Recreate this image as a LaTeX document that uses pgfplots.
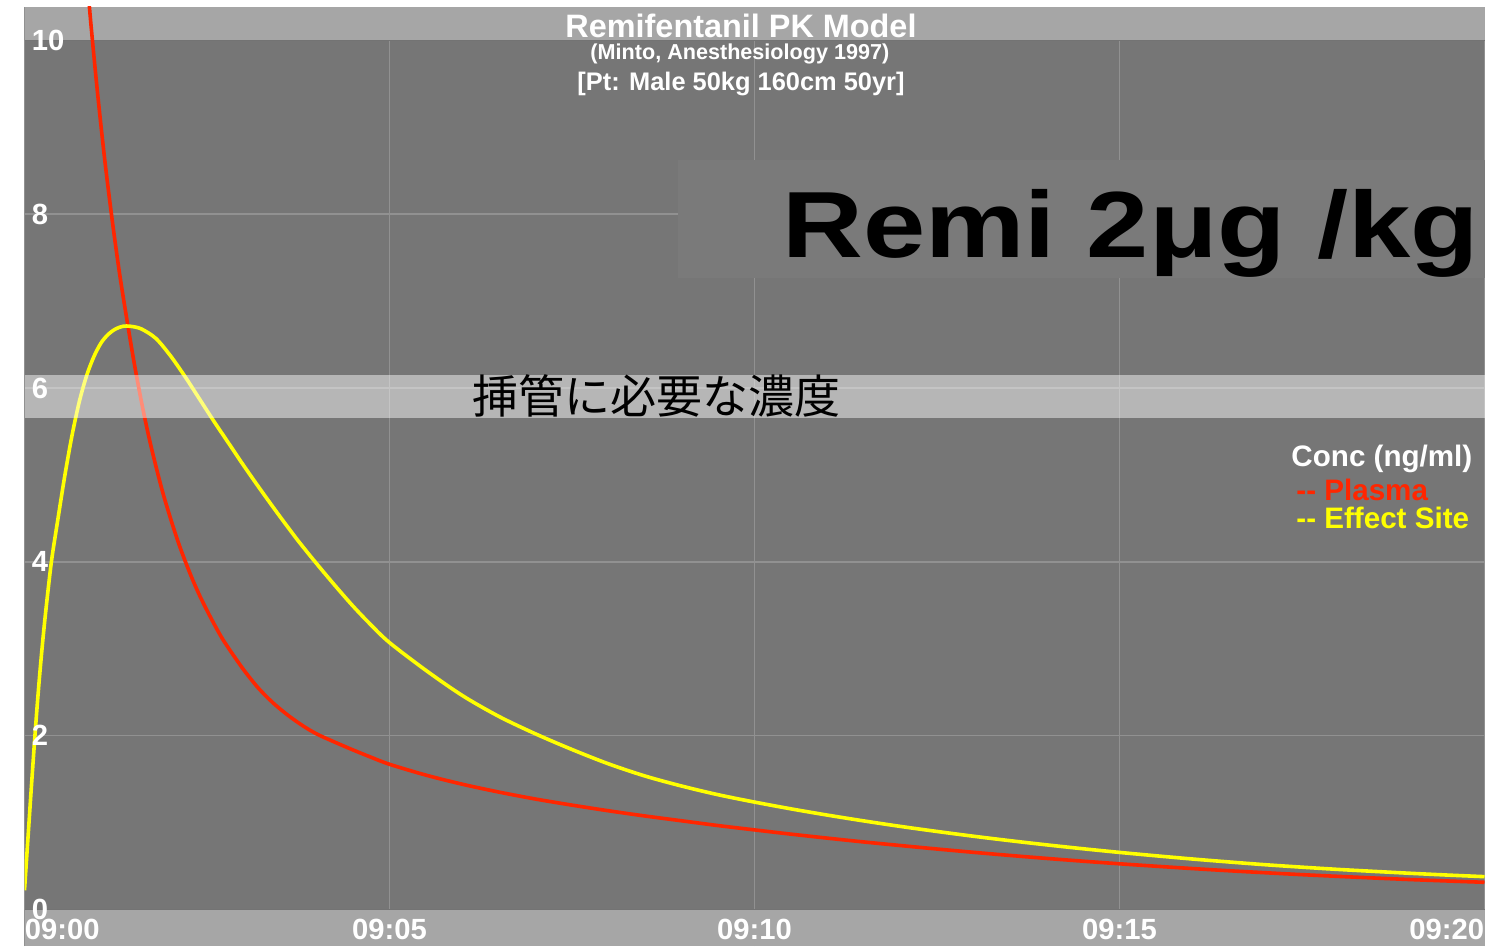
\documentclass[border=0pt]{standalone}
\usepackage{fontspec}
\setmainfont{Liberation Sans}
\newfontfamily\cjk{Noto Sans CJK JP}
\usepackage{graphicx}
\usepackage{pgfplots}
\pgfplotsset{compat=1.18}
\definecolor{bgmain}{RGB}{118,118,118}
\definecolor{bandc}{RGB}{166,166,166}
\definecolor{gridc}{RGB}{145,145,145}
\definecolor{remibox}{RGB}{122,122,122}
\definecolor{plasma}{RGB}{255,38,0}
\definecolor{effect}{RGB}{255,255,0}
\pgfplotsset{
  frame/.style={
    at={(0,0)}, anchor=south west,
    width=730pt, height=469.5pt, scale only axis,
    xmin=0, xmax=20, ymin=-0.421, ymax=10.384,
    axis line style={draw=none},
    xtick={0,5,10,15,20}, ytick={0,2,4,6,8,10},
    major tick length=0pt,
  },
}

\begin{document}
\begin{tikzpicture}
\path[use as bounding box] (-12.25pt,-1pt) rectangle (742.25pt,473pt);
\begin{axis}[
  frame,
  axis background/.style={fill=bgmain},
  xticklabels={}, yticklabels={},
  grid=major, major grid style={gridc, line width=0.75pt},
  clip mode=individual,
]
% bands top and bottom
\fill[bandc] (axis cs:0,10) rectangle (axis cs:20,10.384);
\fill[bandc] (axis cs:0,-0.421) rectangle (axis cs:20,0);
\draw[black!55, line width=0.75pt] (axis cs:0,10) -- (axis cs:20,10);
\draw[black!55, line width=0.75pt] (axis cs:0,0) -- (axis cs:20,0);
\fill[remibox] (axis cs:8.952,7.266) rectangle (axis cs:20,8.624);

% plasma
\addplot[plasma, line width=1.8pt, smooth] table {
0.80 11.30
0.90 10.28
1.00 9.40
1.10 8.62
1.20 7.94
1.30 7.33
1.40 6.80
1.50 6.30
1.60 5.85
1.70 5.45
1.80 5.10
1.90 4.78
2.00 4.50
2.10 4.24
2.20 4.01
2.30 3.80
2.40 3.61
2.50 3.44
2.60 3.28
2.70 3.13
2.80 3.00
3.00 2.76
3.20 2.55
3.40 2.38
3.60 2.24
3.80 2.12
4.00 2.02
4.25 1.925
4.50 1.835
4.75 1.75
5.00 1.67
5.50 1.545
6.00 1.44
6.50 1.35
7.00 1.27
7.50 1.20
8.00 1.135
8.50 1.075
9.00 1.02
9.50 0.965
10.00 0.915
10.50 0.866
11.00 0.820
11.50 0.776
12.00 0.735
12.50 0.695
13.00 0.657
13.50 0.621
14.00 0.587
14.50 0.555
15.00 0.525
15.50 0.497
16.00 0.470
16.50 0.445
17.00 0.422
17.50 0.400
18.00 0.380
18.50 0.361
19.00 0.343
19.50 0.327
20.00 0.312
};
% effect site
\addplot[effect, line width=1.8pt, smooth] table {
0.00 0.22
0.03 0.60
0.06 0.98
0.10 1.48
0.15 2.08
0.20 2.62
0.25 3.09
0.30 3.50
0.37 4.01
0.45 4.45
0.55 4.98
0.65 5.45
0.75 5.84
0.85 6.14
0.95 6.36
1.05 6.52
1.15 6.62
1.25 6.68
1.35 6.71
1.45 6.71
1.60 6.68
1.80 6.57
2.00 6.37
2.20 6.13
2.40 5.87
2.60 5.61
2.80 5.36
3.00 5.11
3.25 4.81
3.50 4.52
3.75 4.24
4.00 3.98
4.25 3.73
4.50 3.49
4.75 3.27
5.00 3.07
5.50 2.75
6.00 2.46
6.50 2.22
7.00 2.02
7.50 1.84
8.00 1.675
8.50 1.535
9.00 1.42
9.50 1.32
10.00 1.235
10.50 1.157
11.00 1.085
11.50 1.018
12.00 0.955
12.50 0.897
13.00 0.842
13.50 0.791
14.00 0.743
14.50 0.698
15.00 0.656
15.50 0.617
16.00 0.580
16.50 0.546
17.00 0.514
17.50 0.486
18.00 0.460
18.50 0.437
19.00 0.415
19.50 0.395
20.00 0.377
};

% intubation band
\fill[white, opacity=0.47] (axis cs:0,5.655) rectangle (axis cs:20,6.15);
\node[font=\cjk\fontsize{23}{23}\selectfont, inner sep=0pt, text=black] at (axis cs:8.651,5.908) {挿管に必要な濃度};

% titles
\node[text=white, inner sep=0pt, font=\bfseries\fontsize{16.2}{16.2}\selectfont] at (axis cs:9.815,10.166) {Remifentanil PK Model};
\node[text=white, inner sep=0pt, font=\bfseries\fontsize{10.8}{10.8}\selectfont] at (axis cs:9.80,9.849) {(Minto, Anesthesiology 1997)};
\node[text=white, inner sep=0pt, font=\bfseries\fontsize{12.7}{12.7}\selectfont] at (axis cs:9.815,9.498) {[Pt: Male 50kg 160cm 50yr]};

% dose
\node[anchor=base west, inner sep=0pt, text=black] at (axis cs:10.377,7.507) {\scalebox{1.19}[1]{\bfseries\fontsize{47}{47}\selectfont Remi 2μg /kg}};

% legend
\node[anchor=west, inner sep=0pt, text=white, font=\bfseries\fontsize{14.8}{14.8}\selectfont] at (axis cs:17.35,5.183) {Conc (ng/ml)};
\node[anchor=west, inner sep=0pt, text=plasma, font=\bfseries\fontsize{14.8}{14.8}\selectfont] at (axis cs:17.418,4.826) {{-}{-} Plasma};
\node[anchor=west, inner sep=0pt, text=effect, font=\bfseries\fontsize{14.8}{14.8}\selectfont] at (axis cs:17.418,4.504) {{-}{-} Effect Site};
\end{axis}

% tick labels on top of the bands
\begin{axis}[
  frame,
  xticklabels={,09:05,09:10,09:15,},
  /pgf/number format/assume math mode=true,
  ticklabel style={font=\bfseries\fontsize{14.6}{14.6}\selectfont, text=white},
  yticklabel style={anchor=west, inner sep=0pt, xshift=3.5pt},
  xticklabel style={anchor=center, inner sep=0pt, yshift=8.5pt},
  clip=false,
]
\node[anchor=west, inner sep=0pt, text=white, font=\bfseries\fontsize{14.6}{14.6}\selectfont] at (axis cs:0,-0.226) {09:00};
\node[anchor=east, inner sep=0pt, text=white, font=\bfseries\fontsize{14.6}{14.6}\selectfont] at (axis cs:20,-0.226) {09:20};
\end{axis}
\end{tikzpicture}
\end{document}
